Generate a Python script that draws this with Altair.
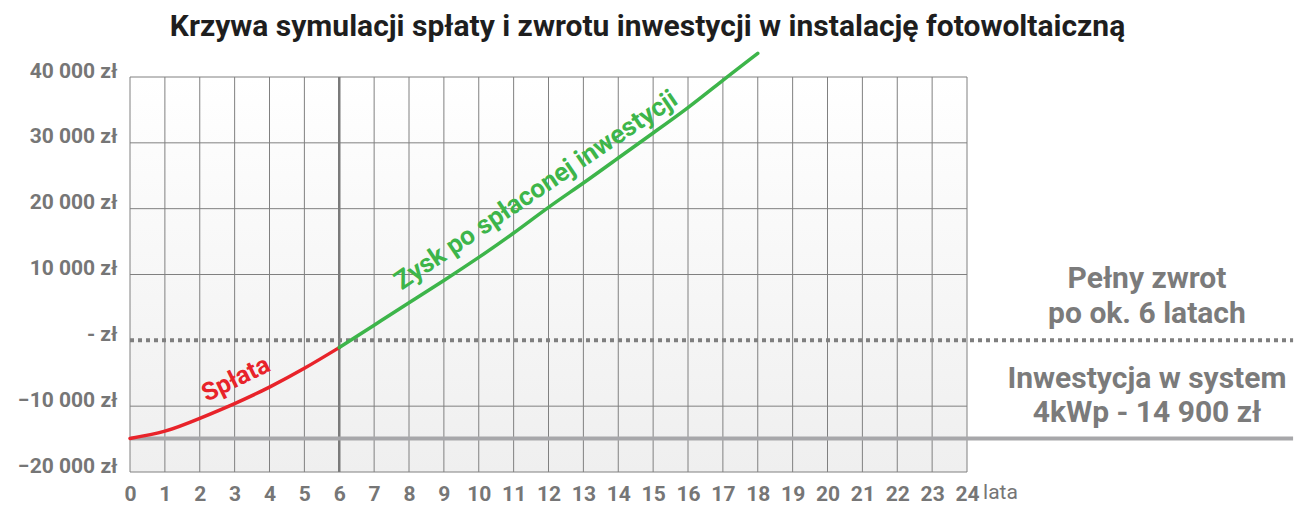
import altair as alt
import pandas as pd

# ---- data ----
years_red = [0, 1, 2, 3, 4, 5, 6]
values_red = [-14900, -13800, -11850, -9600, -7100, -4250, -1100]
years_green = [6, 7, 8, 9, 10, 11, 12, 13, 14, 15, 16, 17, 18]
values_green = [-1100, 2300, 5700, 9100, 12600, 16300, 20200, 23900, 27700, 31500, 35350, 39500, 43600]
x_ticks = list(range(0, 25))
y_ticks = [-20000, -10000, 0, 10000, 20000, 30000, 40000]
grid_y = [-20000, -10000, 10000, 20000, 30000, 40000]
investment = -14900
payback_year = 6

title_text = "Krzywa symulacji spłaty i zwrotu inwestycji w instalację fotowoltaiczną"
red_label = "Spłata"
green_label = "Zysk po spłaconej inwestycji"
right_lines = ["Pełny zwrot", "po ok. 6 latach", "Inwestycja w system", "4kWp - 14 900 zł"]
right_y = [7880, 2580, -7270, -12424]
unit_label = "lata"

# ---- styles ----
FONT = "Roboto"
GRAY = "#767676"
GRID = "#808080"
RED = "#e8232a"
GREEN = "#3db54a"
W, H = 837, 395

xs = alt.Scale(domain=[0, 24], nice=False, zero=False)
ys = alt.Scale(domain=[-20000, 40000], nice=False, zero=False)
xaxis = alt.Axis(title=None, values=x_ticks, grid=False, domain=False, ticks=False, tickSize=0,
                 labelFont=FONT, labelFontSize=21, labelFontWeight="bold", labelColor=GRAY,
                 labelPadding=28, labelBaseline="alphabetic", labelFlush=False, labelOverlap=False)
yaxis = alt.Axis(title=None, values=y_ticks, grid=False, domain=False, ticks=False, tickSize=0,
                 labelFont=FONT, labelFontSize=21, labelFontWeight="bold", labelColor=GRAY,
                 labelPadding=13, labelBaseline="alphabetic", labelFlush=False, labelOverlap=False,
                 labelExpr="datum.value == 0 ? '- zł' : replace(format(datum.value, ',d'), ',', ' ') + ' zł'")


def X(f):
    return alt.X(f, type="quantitative", scale=xs, axis=xaxis)


def Y(f):
    return alt.Y(f, type="quantitative", scale=ys, axis=yaxis)


bg_df = pd.DataFrame({"x0": [x_ticks[0]], "x1": [x_ticks[-1]], "y0": [y_ticks[0]], "y1": [y_ticks[-1]]})
bg = alt.Chart(bg_df).mark_rect(
    color=alt.LinearGradient(gradient="linear",
                             stops=[alt.GradientStop(offset=0, color="#ffffff"),
                                    alt.GradientStop(offset=1, color="#efefef")],
                             x1=0, x2=0, y1=0, y2=1)
).encode(x=X("x0"), x2="x1", y=Y("y0"), y2="y1")

vgrid_df = pd.DataFrame({"x": x_ticks, "y0": y_ticks[0], "y1": y_ticks[-1]})
vgrid = alt.Chart(vgrid_df).mark_rule(color=GRID, strokeWidth=1).encode(x=X("x"), y=Y("y0"), y2="y1")

hgrid_df = pd.DataFrame({"y": grid_y, "x0": x_ticks[0], "x1": x_ticks[-1]})
hgrid = alt.Chart(hgrid_df).mark_rule(color=GRID, strokeWidth=1).encode(y=Y("y"), x=X("x0"), x2="x1")

pay_df = pd.DataFrame({"x": [payback_year], "y0": [y_ticks[0]], "y1": [y_ticks[-1]]})
pay = alt.Chart(pay_df).mark_rule(color="#7a7a7a", strokeWidth=2.5).encode(x=X("x"), y=Y("y0"), y2="y1")

zero_df = pd.DataFrame({"y": [0], "x0": [0], "x1": [33.35]})
zero = alt.Chart(zero_df).mark_rule(color="#7f7f7f", strokeWidth=4, strokeDash=[4, 4]).encode(
    y=Y("y"), x=X("x0"), x2="x1")

inv_df = pd.DataFrame({"y": [investment], "x0": [0], "x1": [33.35]})
inv = alt.Chart(inv_df).mark_rule(color="#a7a7aa", strokeWidth=4).encode(y=Y("y"), x=X("x0"), x2="x1")

red_df = pd.DataFrame({"year": years_red, "value": values_red})
red = alt.Chart(red_df).mark_line(color=RED, strokeWidth=3.5, interpolate="natural", strokeCap="round").encode(
    x=X("year"), y=Y("value"))

green_df = pd.DataFrame({"year": years_green, "value": values_green})
green = alt.Chart(green_df).mark_line(color=GREEN, strokeWidth=3.5, interpolate="natural", strokeCap="round").encode(
    x=X("year"), y=Y("value"))

red_t = alt.Chart(pd.DataFrame({"x": [3.03], "y": [-5850], "t": [red_label]})).mark_text(
    font=FONT, fontSize=25, fontWeight="bold", color=RED, angle=334, align="center", baseline="middle"
).encode(x=X("x"), y=Y("y"), text="t")

green_t = alt.Chart(pd.DataFrame({"x": [11.64], "y": [22800], "t": [green_label]})).mark_text(
    font=FONT, fontSize=26, fontWeight="bold", color=GREEN, angle=326, align="center", baseline="middle"
).encode(x=X("x"), y=Y("y"), text="t")

right_df = pd.DataFrame({"x": [29.16] * 4, "y": right_y, "t": right_lines})
right_t = alt.Chart(right_df).mark_text(
    font=FONT, fontSize=30, fontWeight="bold", color="#7b7b7b", align="center", baseline="alphabetic"
).encode(x=X("x"), y=Y("y"), text="t")

lata_t = alt.Chart(pd.DataFrame({"x": [24.46], "y": [-24090], "t": [unit_label]})).mark_text(
    font=FONT, fontSize=21, fontWeight="normal", color=GRAY, align="left", baseline="alphabetic"
).encode(x=X("x"), y=Y("y"), text="t")

title_t = alt.Chart(pd.DataFrame({"x": [14.84], "y": [46300], "t": [title_text]})).mark_text(
    font=FONT, fontSize=30, fontWeight="bold", color="#1e1e1e", align="center", baseline="alphabetic"
).encode(x=X("x"), y=Y("y"), text="t")

chart = alt.layer(bg, vgrid, hgrid, pay, zero, inv, red, green, red_t, green_t, right_t, lata_t, title_t).properties(
    width=W, height=H,
    autosize=alt.AutoSizeParams(type="none"),
    padding={"left": 122, "top": 69, "right": 332, "bottom": 32},
).configure_view(stroke=None)

chart.save("out.html", embed_options={"renderer": "svg", "actions": False})
